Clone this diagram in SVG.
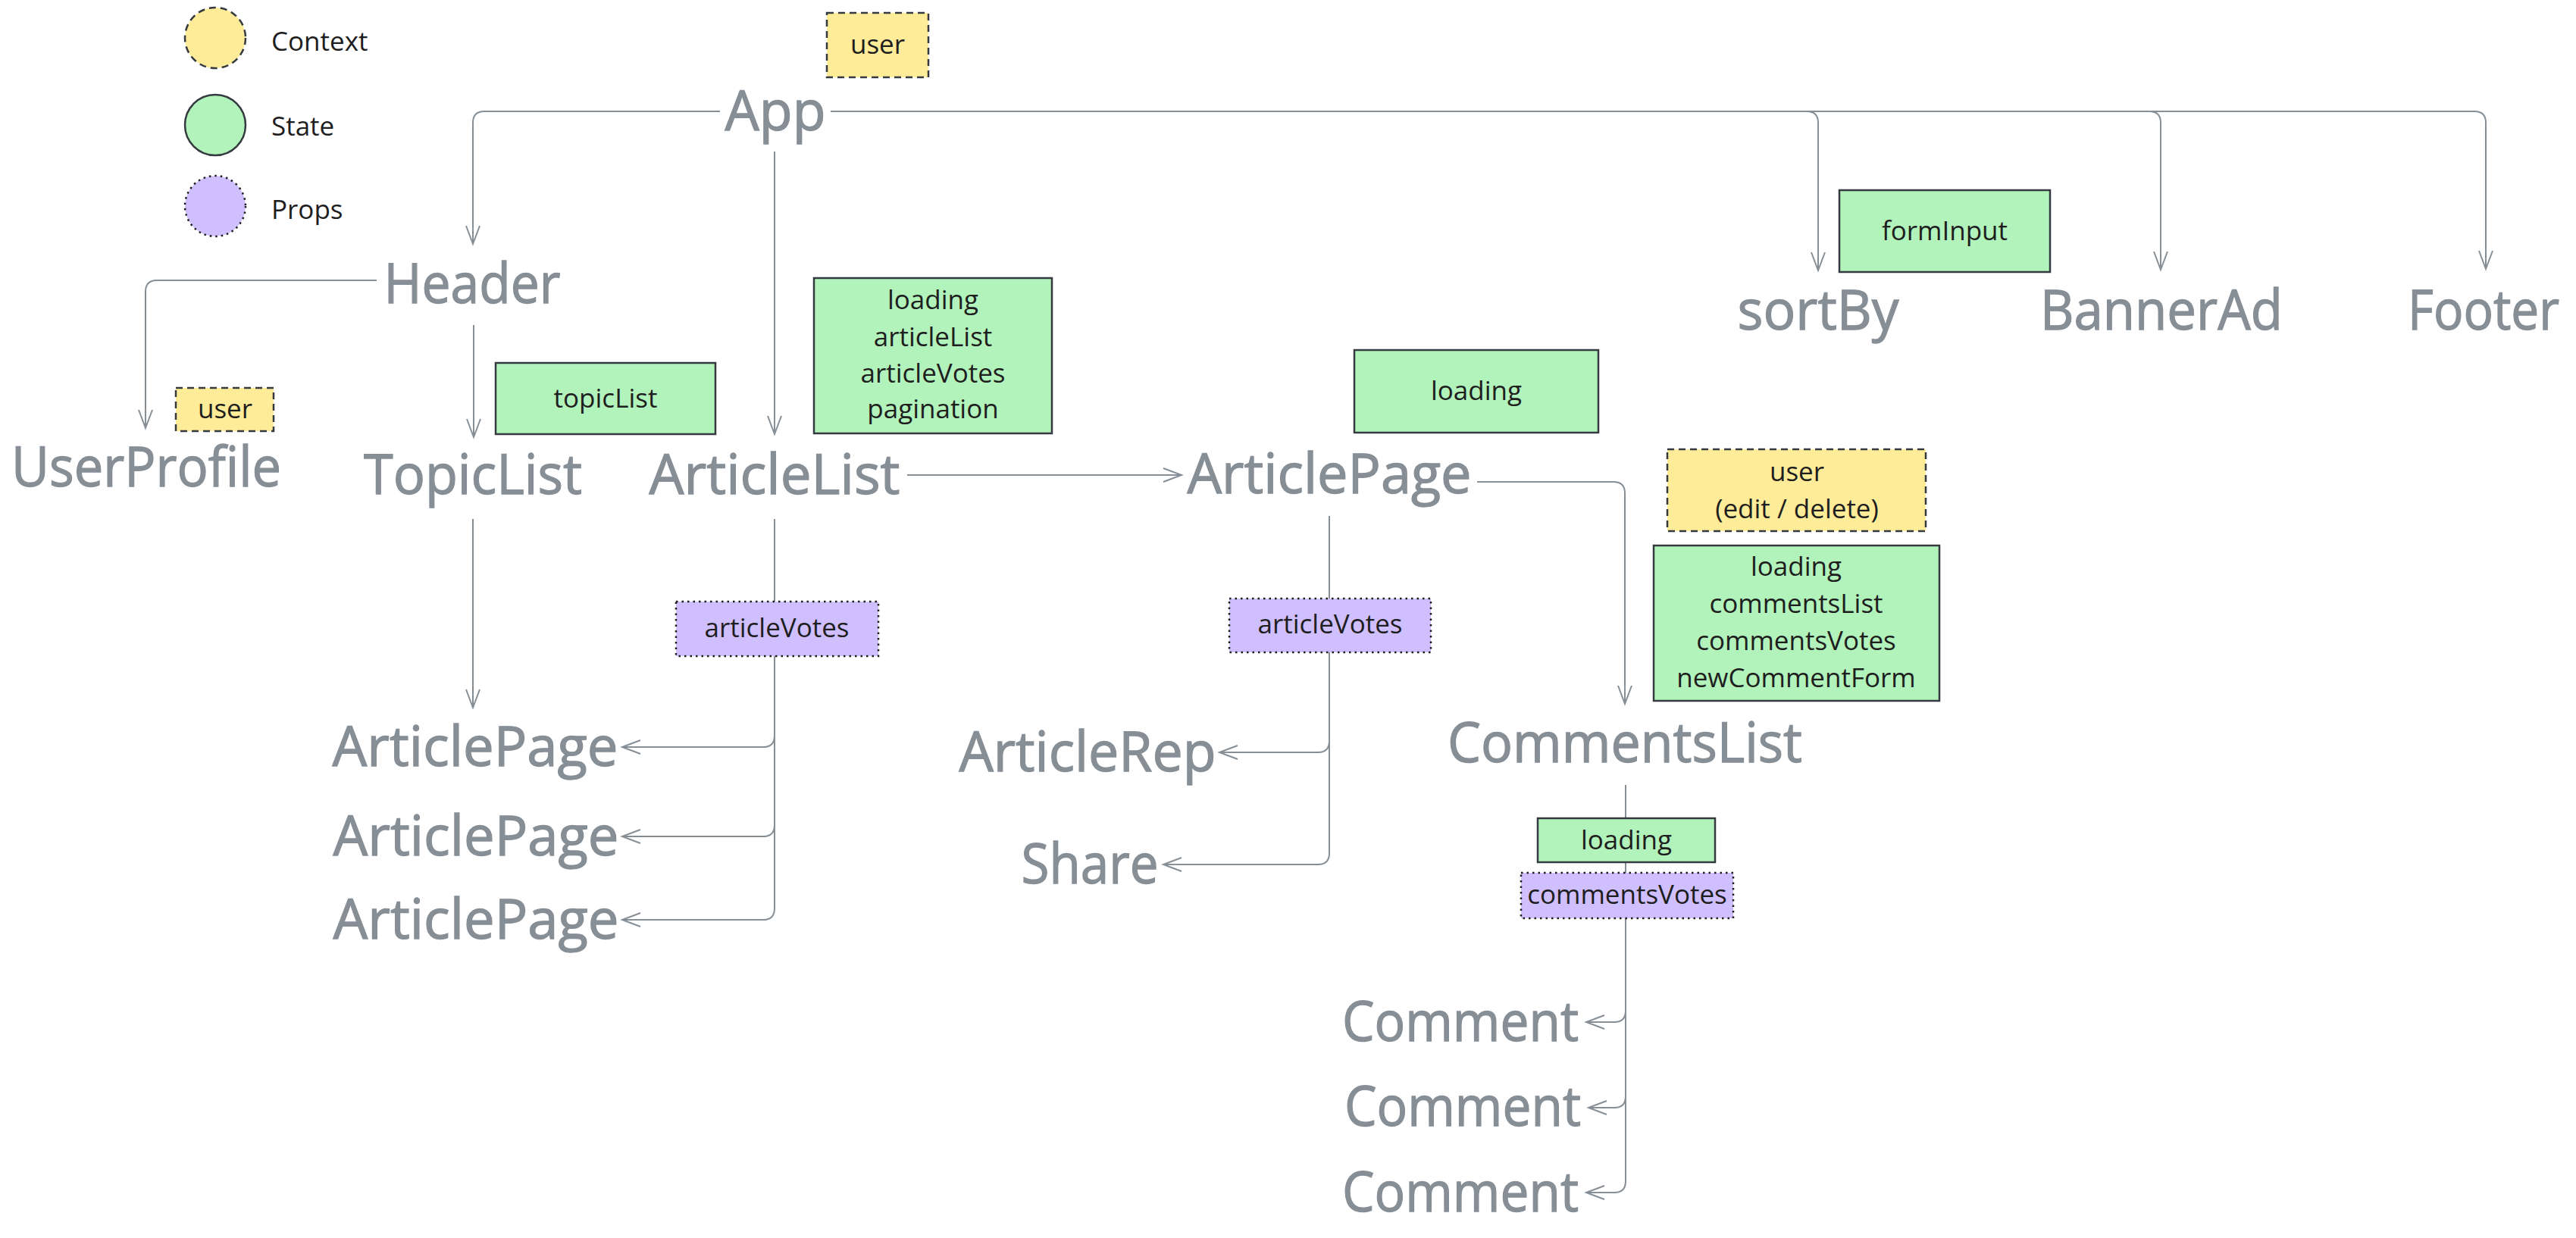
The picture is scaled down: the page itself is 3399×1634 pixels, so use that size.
<svg xmlns="http://www.w3.org/2000/svg" width="3399" height="1634" viewBox="0 0 3399 1634">
<style>
.bg{fill:#ffffff}
.big{font-family:"Open Sans","Noto Sans",sans-serif;font-size:73px;fill:#868e96;stroke:#868e96;stroke-width:1.3;text-anchor:middle}
.sm{font-family:"Open Sans","Noto Sans",sans-serif;font-size:35px;fill:#1e1e1e;text-anchor:middle}
.leg{font-family:"Open Sans","Noto Sans",sans-serif;font-size:35px;fill:#1e1e1e}
.ctx{fill:#ffec99;stroke:#343a40;stroke-width:2.5;stroke-dasharray:9 6}
.st{fill:#b2f2bb;stroke:#343a40;stroke-width:2.5}
.pr{fill:#d0bfff;stroke:#1e1e1e;stroke-width:2.5;stroke-dasharray:2.5 5}
.ln{fill:none;stroke:#868e96;stroke-width:2}
</style>
<defs>
<marker id="arr" markerUnits="userSpaceOnUse" markerWidth="30" markerHeight="24" refX="26" refY="11" orient="auto">
<path d="M2,2 L26,11 L2,20" fill="none" stroke="#868e96" stroke-width="2"/>
</marker>
</defs>
<rect class="bg" x="0" y="0" width="3399" height="1634"/>

<g id="legend">
<circle class="ctx" cx="284" cy="50" r="40"/>
<text class="leg" x="358" y="67">Context</text>
<circle class="st" cx="284" cy="165" r="40"/>
<text class="leg" x="358" y="179">State</text>
<circle class="pr" cx="284" cy="272" r="40"/>
<text class="leg" x="358" y="289">Props</text>
</g>

<g id="connectors">
<path class="ln" d="M950 147 H639 Q624 147 624 162 V322" marker-end="url(#arr)"/>
<path class="ln" d="M1022 200 V573" marker-end="url(#arr)"/>
<path class="ln" d="M1096 147 H2384 Q2399 147 2399 162 V357" marker-end="url(#arr)"/>
<path class="ln" d="M2384 147 H2836 Q2851 147 2851 162 V356" marker-end="url(#arr)"/>
<path class="ln" d="M2836 147 H3265 Q3280 147 3280 162 V355" marker-end="url(#arr)"/>
<path class="ln" d="M497 370 H207 Q192 370 192 385 V565" marker-end="url(#arr)"/>
<path class="ln" d="M625 429 V577" marker-end="url(#arr)"/>
<path class="ln" d="M624 685 V934" marker-end="url(#arr)"/>
<path class="ln" d="M1022 685 V971 Q1022 986 1007 986 H821" marker-end="url(#arr)"/>
<path class="ln" d="M1022 971 V1089 Q1022 1104 1007 1104 H821" marker-end="url(#arr)"/>
<path class="ln" d="M1022 1089 V1199 Q1022 1214 1007 1214 H821" marker-end="url(#arr)"/>
<path class="ln" d="M1197 627 H1559" marker-end="url(#arr)"/>
<path class="ln" d="M1754 681 V978 Q1754 993 1739 993 H1609" marker-end="url(#arr)"/>
<path class="ln" d="M1754 978 V1126 Q1754 1141 1739 1141 H1535" marker-end="url(#arr)"/>
<path class="ln" d="M1949 636 H2129 Q2144 636 2144 651 V929" marker-end="url(#arr)"/>
<path class="ln" d="M2145 1036 V1334 Q2145 1349 2130 1349 H2093" marker-end="url(#arr)"/>
<path class="ln" d="M2145 1334 V1447 Q2145 1462 2130 1462 H2096" marker-end="url(#arr)"/>
<path class="ln" d="M2145 1447 V1559 Q2145 1574 2130 1574 H2093" marker-end="url(#arr)"/>
</g>

<g id="app">
<text class="big" x="1023" y="172" textLength="133" lengthAdjust="spacingAndGlyphs">App</text>
<rect class="ctx" x="1091" y="17" width="134" height="85"/>
<text class="sm" x="1158" y="71">user</text>
</g>

<g id="header">
<text class="big" x="623" y="400" textLength="233" lengthAdjust="spacingAndGlyphs">Header</text>
</g>

<g id="userprofile">
<text class="big" x="193" y="642" textLength="356" lengthAdjust="spacingAndGlyphs">UserProfile</text>
<rect class="ctx" x="232" y="512" width="129" height="57"/>
<text class="sm" x="297" y="552">user</text>
</g>

<g id="topiclist">
<text class="big" x="624" y="652" textLength="288" lengthAdjust="spacingAndGlyphs">TopicList</text>
<rect class="st" x="654" y="479" width="290" height="94"/>
<text class="sm" x="799" y="538">topicList</text>
</g>

<g id="articlelist">
<text class="big" x="1022" y="652" textLength="331" lengthAdjust="spacingAndGlyphs">ArticleList</text>
<rect class="st" x="1074" y="367" width="314" height="205"/>
<text class="sm" x="1231" y="408">loading</text>
<text class="sm" x="1231" y="457">articleList</text>
<text class="sm" x="1231" y="505">articleVotes</text>
<text class="sm" x="1231" y="552">pagination</text>
<rect class="pr" x="892" y="794" width="267" height="72"/>
<text class="sm" x="1025" y="841">articleVotes</text>
</g>

<g id="articlepage">
<text class="big" x="1754" y="651" textLength="375" lengthAdjust="spacingAndGlyphs">ArticlePage</text>
<rect class="st" x="1787" y="462" width="322" height="109"/>
<text class="sm" x="1948" y="528">loading</text>
<rect class="pr" x="1622" y="790" width="266" height="71"/>
<text class="sm" x="1755" y="836">articleVotes</text>
</g>

<g id="sortby">
<text class="big" x="2399" y="435" textLength="213" lengthAdjust="spacingAndGlyphs">sortBy</text>
<rect class="st" x="2427" y="251" width="278" height="108"/>
<text class="sm" x="2566" y="317">formInput</text>
</g>

<g id="bannerad">
<text class="big" x="2852" y="435" textLength="320" lengthAdjust="spacingAndGlyphs">BannerAd</text>
</g>

<g id="footer">
<text class="big" x="3277" y="435" textLength="200" lengthAdjust="spacingAndGlyphs">Footer</text>
</g>

<g id="articlepage-1">
<text class="big" x="627" y="1011" textLength="377" lengthAdjust="spacingAndGlyphs">ArticlePage</text>
</g>
<g id="articlepage-2">
<text class="big" x="628" y="1129" textLength="377" lengthAdjust="spacingAndGlyphs">ArticlePage</text>
</g>
<g id="articlepage-3">
<text class="big" x="628" y="1239" textLength="377" lengthAdjust="spacingAndGlyphs">ArticlePage</text>
</g>

<g id="articlerep">
<text class="big" x="1435" y="1018" textLength="339" lengthAdjust="spacingAndGlyphs">ArticleRep</text>
</g>
<g id="share">
<text class="big" x="1438" y="1166" textLength="181" lengthAdjust="spacingAndGlyphs">Share</text>
</g>

<g id="commentslist">
<text class="big" x="2144" y="1006" textLength="468" lengthAdjust="spacingAndGlyphs">CommentsList</text>
<rect class="ctx" x="2200" y="593" width="341" height="108"/>
<text class="sm" x="2371" y="635">user</text>
<text class="sm" x="2371" y="684">(edit / delete)</text>
<rect class="st" x="2182" y="720" width="377" height="205"/>
<text class="sm" x="2370" y="760">loading</text>
<text class="sm" x="2370" y="809">commentsList</text>
<text class="sm" x="2370" y="858">commentsVotes</text>
<text class="sm" x="2370" y="907">newCommentForm</text>
<rect class="st" x="2029" y="1080" width="234" height="58"/>
<text class="sm" x="2146" y="1121">loading</text>
<rect class="pr" x="2007" y="1152" width="280" height="60"/>
<text class="sm" x="2147" y="1193">commentsVotes</text>
</g>

<g id="comment-1">
<text class="big" x="1927" y="1374" textLength="312" lengthAdjust="spacingAndGlyphs">Comment</text>
</g>
<g id="comment-2">
<text class="big" x="1930" y="1486" textLength="312" lengthAdjust="spacingAndGlyphs">Comment</text>
</g>
<g id="comment-3">
<text class="big" x="1927" y="1599" textLength="312" lengthAdjust="spacingAndGlyphs">Comment</text>
</g>
</svg>
